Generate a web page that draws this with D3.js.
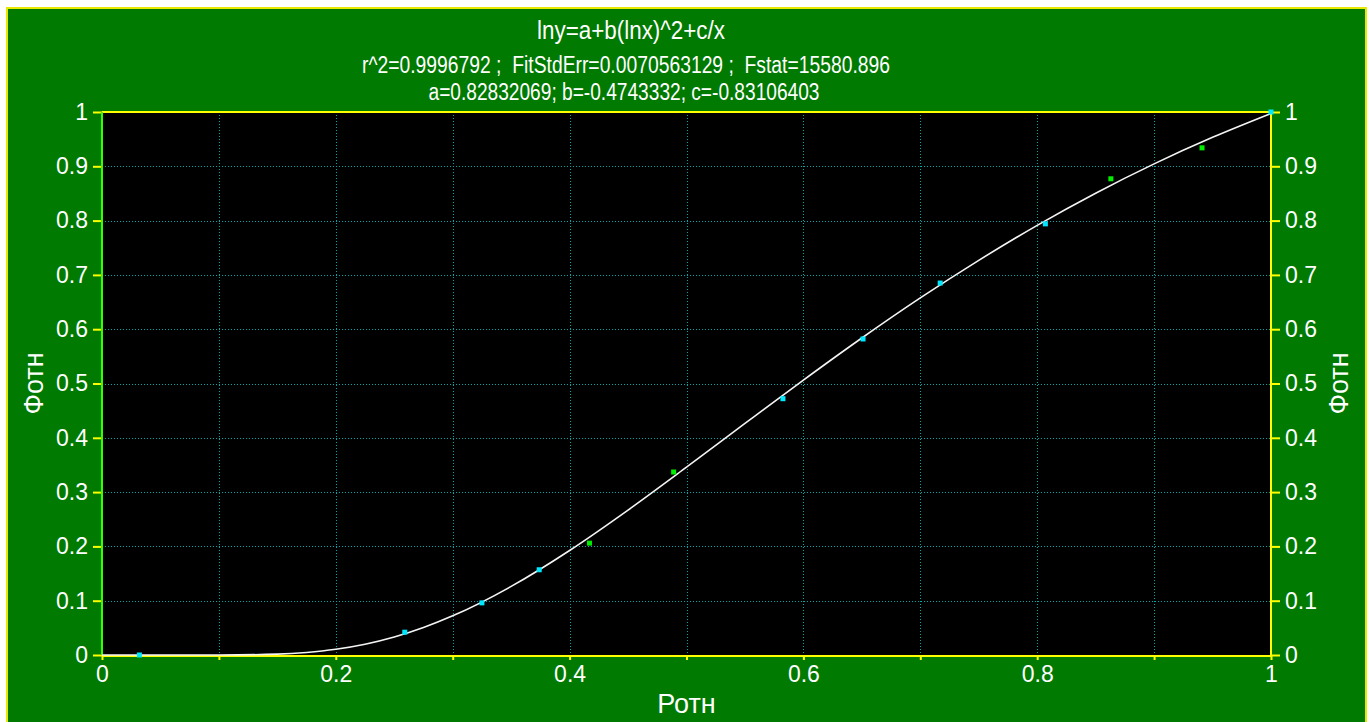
<!DOCTYPE html>
<html>
<head>
<meta charset="utf-8">
<script src="https://cdn.jsdelivr.net/npm/d3@7/dist/d3.min.js"></script>
<style>
  body { margin: 0; background: #fff; }
  svg text { font-family: "Liberation Sans", Arial, sans-serif; fill: #fff; }
</style>
</head>
<body>
<svg id="chart" width="1369" height="722"></svg>
<script>
// measured points (cyan = kept, green = flagged)
const pointX = [0.032, 0.259, 0.325, 0.374, 0.417, 0.489, 0.5825, 0.651, 0.717, 0.807, 0.863, 0.941, 1.0];
const pointY = [0.0, 0.042, 0.096, 0.157, 0.206, 0.337, 0.472, 0.582, 0.685, 0.794, 0.877, 0.934, 1.0];
const pointKind = ['c', 'c', 'c', 'c', 'g', 'g', 'c', 'c', 'c', 'c', 'g', 'g', 'c'];

// fitted curve
const fitX = [0.0, 0.05, 0.1, 0.15, 0.175, 0.2, 0.225, 0.25, 0.275, 0.3, 0.35, 0.4, 0.45, 0.5, 0.55, 0.6, 0.65, 0.7, 0.75, 0.8, 0.85, 0.9, 0.95, 1.0];
const fitY = [0.0, 0.0, 0.0, 0.0016, 0.0047, 0.0105, 0.0198, 0.0331, 0.0506, 0.0721, 0.1263, 0.1925, 0.2669, 0.3459, 0.4265, 0.5063, 0.5838, 0.6576, 0.7268, 0.7913, 0.8505, 0.9045, 0.9533, 0.9973];

const xTicks = [0, 0.2, 0.4, 0.6, 0.8, 1];
const gridTicks = [0.1, 0.2, 0.3, 0.4, 0.5, 0.6, 0.7, 0.8, 0.9];
const yTicks = [0, 0.1, 0.2, 0.3, 0.4, 0.5, 0.6, 0.7, 0.8, 0.9, 1];

const titleLines = [
  'lny=a+b(lnx)^2+c/x',
  'r^2=0.9996792 ;  FitStdErr=0.0070563129 ;  Fstat=15580.896',
  'a=0.82832069; b=-0.4743332; c=-0.83106403'
];

const svg = d3.select('#chart');
const pl = 102, pr = 1271, pt = 112, pb = 655;

// background panel
svg.append('rect')
  .attr('x', 7).attr('y', 8).attr('width', 1359).attr('height', 720)
  .attr('fill', '#007a00').attr('stroke', '#e8e800').attr('stroke-width', 2);

svg.append('rect')
  .attr('x', pl).attr('y', pt).attr('width', pr - pl).attr('height', pb - pt)
  .attr('fill', '#000');

const x = d3.scaleLinear().domain([0, 1]).range([pl, pr]);
const y = d3.scaleLinear().domain([0, 1]).range([pb, pt]);

// grid
const grid = svg.append('g').attr('stroke', '#00a8a8').attr('stroke-width', 1).attr('stroke-dasharray', '1,2');
grid.selectAll('line.v').data(gridTicks).enter().append('line')
  .attr('x1', d => Math.round(x(d)) + 0.5).attr('x2', d => Math.round(x(d)) + 0.5)
  .attr('y1', pt).attr('y2', pb);
grid.selectAll('line.h').data(gridTicks).enter().append('line')
  .attr('y1', d => Math.round(y(d)) + 0.5).attr('y2', d => Math.round(y(d)) + 0.5)
  .attr('x1', pl).attr('x2', pr);

// axes
function styleAxis(g) {
  g.select('.domain').remove();
  g.selectAll('.tick line').attr('stroke', '#ffff00').attr('stroke-width', 2);
  g.selectAll('.tick text').attr('fill', '#fff').style('font-size', '23px');
}

svg.append('g')
  .attr('transform', `translate(${pl},0)`)
  .call(d3.axisLeft(y).tickValues(yTicks).tickSize(9).tickPadding(5).tickFormat(d3.format('')))
  .call(styleAxis);

svg.append('g')
  .attr('transform', `translate(${pr},0)`)
  .call(d3.axisRight(y).tickValues(yTicks).tickSize(9).tickPadding(5).tickFormat(d3.format('')))
  .call(styleAxis);

svg.append('g')
  .attr('transform', `translate(0,${pb})`)
  .call(d3.axisBottom(x).tickValues(d3.range(0, 11).map(i => i / 10)).tickSize(5).tickPadding(6)
    .tickFormat(d => xTicks.some(t => Math.abs(t - d) < 1e-9) ? d3.format('')(+d.toFixed(1)) : ''))
  .call(styleAxis);

// frame
svg.append('line').attr('x1', pl).attr('x2', pr).attr('y1', pt).attr('y2', pt)
  .attr('stroke', '#ffff00').attr('stroke-width', 2);
svg.append('line').attr('x1', pr).attr('x2', pr).attr('y1', pt).attr('y2', pb)
  .attr('stroke', '#ffff00').attr('stroke-width', 2);
svg.append('line').attr('x1', pl).attr('x2', pr).attr('y1', pb + 1).attr('y2', pb + 1)
  .attr('stroke', '#ffff00').attr('stroke-width', 2);
svg.append('line').attr('x1', pl).attr('x2', pl).attr('y1', pt).attr('y2', pb)
  .attr('stroke', '#33ff00').attr('stroke-width', 2);

// fitted curve
const fit = fitX.map((v, i) => [v, fitY[i]]);
svg.append('path')
  .datum(fit)
  .attr('fill', 'none')
  .attr('stroke', '#f4f4f4')
  .attr('stroke-width', 1.6)
  .attr('d', d3.line().x(d => x(d[0])).y(d => y(d[1])).curve(d3.curveMonotoneX));

// data points
const pts = pointX.map((v, i) => ({ x: v, y: pointY[i], k: pointKind[i] }));
svg.selectAll('rect.pt').data(pts).enter().append('rect')
  .attr('x', d => x(d.x) - 2.5).attr('y', d => y(d.y) - 2.5)
  .attr('width', 5).attr('height', 5)
  .attr('fill', d => d.k === 'g' ? '#00ee00' : '#00e8ff');

// titles (slightly condensed like the original)
const titleY = [39, 73, 100];
const titleX = [631, 626, 624];
const titleSize = [25, 23, 23];
const titleLen = [188, 528, 391];
titleLines.forEach((t, i) => {
  svg.append('text')
    .attr('x', titleX[i]).attr('y', titleY[i])
    .attr('text-anchor', 'middle')
    .attr('textLength', titleLen[i])
    .attr('lengthAdjust', 'spacingAndGlyphs')
    .style('white-space', 'pre')
    .style('font-size', titleSize[i] + 'px')
    .text(t);
});

// axis titles
svg.append('text')
  .attr('x', (pl + pr) / 2).attr('y', 713)
  .attr('text-anchor', 'middle').style('font-size', '27px')
  .text('Ротн');

svg.append('text')
  .attr('transform', `translate(43,${(pt + pb) / 2}) rotate(-90)`)
  .attr('text-anchor', 'middle').style('font-size', '27px')
  .text('Фотн');

svg.append('text')
  .attr('transform', `translate(1348,${(pt + pb) / 2}) rotate(-90)`)
  .attr('text-anchor', 'middle').style('font-size', '27px')
  .text('Фотн');
</script>
</body>
</html>
